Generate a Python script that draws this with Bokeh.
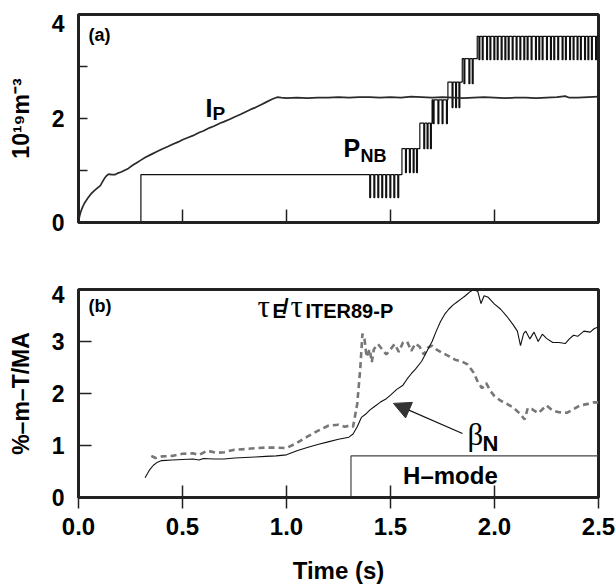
from bokeh.plotting import figure
from bokeh.layouts import column
from bokeh.models import Range1d, FixedTicker, Label, Arrow, NormalHead
from bokeh.embed import file_html
from bokeh.resources import INLINE

FONT = "Liberation Sans"
SERIF = "Liberation Serif"

# ---------------- data: panel (a) ----------------
ip_t = [0.000, 0.005, 0.012, 0.020, 0.030, 0.045, 0.060, 0.075, 0.090, 0.105, 0.115, 0.125,
        0.135, 0.145, 0.160, 0.175, 0.190, 0.205, 0.220, 0.240, 0.260, 0.280, 0.300, 0.320,
        0.350, 0.380, 0.400, 0.430, 0.450, 0.480, 0.500, 0.530, 0.550, 0.580, 0.600, 0.630,
        0.650, 0.680, 0.700, 0.730, 0.750, 0.780, 0.800, 0.830, 0.850, 0.880, 0.900, 0.930,
        0.955, 0.975, 1.000, 1.050, 1.100, 1.150, 1.200, 1.250, 1.300, 1.350, 1.400, 1.450,
        1.500, 1.550, 1.600, 1.650, 1.700, 1.750, 1.800, 1.850, 1.900, 1.950, 2.000, 2.050,
        2.100, 2.150, 2.200, 2.250, 2.300, 2.340, 2.360, 2.400, 2.450, 2.500]
ip_v = [0.00, 0.12, 0.22, 0.30, 0.38, 0.47, 0.55, 0.61, 0.66, 0.71, 0.78, 0.85,
        0.90, 0.93, 0.92, 0.92, 0.95, 0.97, 1.00, 1.04, 1.10, 1.15, 1.20, 1.25,
        1.31, 1.37, 1.41, 1.46, 1.50, 1.55, 1.59, 1.64, 1.67, 1.73, 1.76, 1.82,
        1.85, 1.91, 1.94, 1.99, 2.03, 2.08, 2.12, 2.18, 2.21, 2.27, 2.31, 2.37,
        2.41, 2.40, 2.39, 2.40, 2.39, 2.40, 2.40, 2.41, 2.40, 2.41, 2.41, 2.40,
        2.41, 2.40, 2.42, 2.41, 2.40, 2.41, 2.40, 2.39, 2.40, 2.41, 2.40, 2.39,
        2.40, 2.40, 2.39, 2.40, 2.41, 2.43, 2.40, 2.40, 2.41, 2.42]

# P_NB: beam steps (start time, top level, level of the modulation notches)
pnb_start = [0.300, 1.555, 1.641, 1.700, 1.776, 1.845, 1.917]
pnb_high = [0.92, 1.42, 1.91, 2.36, 2.70, 3.15, 3.58]
pnb_low = [0.48, 0.96, 1.42, 1.90, 2.21, 2.67, 3.13]
pnb_notches = [
    [1.400, 1.420, 1.439, 1.458, 1.477, 1.497, 1.516, 1.535],
    [1.572, 1.591, 1.609, 1.625],
    [1.660, 1.676, 1.692],
    [1.705, 1.728, 1.748, 1.769],
    [1.796, 1.813, 1.829],
    [1.853, 1.877, 1.893],
    [1.925, 1.941, 1.962, 1.978, 1.997, 2.013, 2.032, 2.050, 2.066, 2.085, 2.104,
     2.122, 2.141, 2.157, 2.176, 2.197, 2.213, 2.229, 2.250, 2.269, 2.285, 2.304,
     2.325, 2.341, 2.361, 2.378, 2.397, 2.413, 2.433, 2.449, 2.466, 2.486],
]
pnb_end = 2.5

# ---------------- data: panel (b) ----------------
beta_t = [0.32, 0.34, 0.36, 0.38, 0.40, 0.45, 0.50, 0.55, 0.58, 0.60, 0.65, 0.70, 0.75,
          0.80, 0.85, 0.90, 0.95, 1.00, 1.05, 1.10, 1.15, 1.20, 1.25, 1.30, 1.32, 1.34,
          1.36, 1.38, 1.40, 1.42, 1.45, 1.48, 1.50, 1.53, 1.56, 1.58, 1.60, 1.62, 1.65,
          1.68, 1.70, 1.72, 1.74, 1.76, 1.78, 1.80, 1.82, 1.84, 1.86, 1.88, 1.90, 1.92,
          1.935, 1.95, 1.97, 2.00, 2.03, 2.06, 2.09, 2.11, 2.125, 2.14, 2.15, 2.17, 2.19,
          2.21, 2.23, 2.25, 2.28, 2.31, 2.34, 2.36, 2.38, 2.40, 2.43, 2.46, 2.48, 2.50]
beta_v = [0.38, 0.52, 0.62, 0.68, 0.71, 0.72, 0.73, 0.74, 0.72, 0.75, 0.74, 0.74, 0.76,
          0.77, 0.78, 0.79, 0.80, 0.82, 0.90, 0.96, 1.02, 1.07, 1.12, 1.16, 1.22, 1.36,
          1.54, 1.60, 1.68, 1.74, 1.83, 1.90, 1.97, 2.08, 2.16, 2.28, 2.38, 2.47, 2.62,
          2.85, 3.00, 3.20, 3.38, 3.52, 3.62, 3.70, 3.76, 3.82, 3.88, 3.95, 4.00, 3.96,
          3.73, 3.88, 3.85, 3.72, 3.62, 3.48, 3.32, 3.20, 2.92, 3.15, 3.20, 3.05, 3.18,
          3.00, 3.14, 3.06, 2.98, 2.98, 2.96, 3.05, 3.12, 3.10, 3.20, 3.18, 3.25, 3.28]

tau_t = [0.35, 0.37, 0.40, 0.45, 0.50, 0.55, 0.58, 0.62, 0.66, 0.70, 0.75, 0.80, 0.85,
         0.90, 0.95, 1.00, 1.05, 1.10, 1.15, 1.20, 1.25, 1.28, 1.30, 1.32, 1.34, 1.355,
         1.365, 1.375, 1.385, 1.40, 1.41, 1.42, 1.44, 1.46, 1.48, 1.50, 1.52, 1.54, 1.56,
         1.58, 1.60, 1.62, 1.64, 1.66, 1.68, 1.70, 1.72, 1.75, 1.78, 1.81, 1.84, 1.87,
         1.90, 1.92, 1.94, 1.96, 1.98, 2.00, 2.03, 2.06, 2.09, 2.12, 2.145, 2.16, 2.18,
         2.21, 2.25, 2.28, 2.31, 2.35, 2.38, 2.41, 2.45, 2.48, 2.50]
tau_v = [0.80, 0.76, 0.79, 0.80, 0.84, 0.85, 0.82, 0.90, 0.86, 0.87, 0.92, 0.93, 0.95,
         0.96, 0.96, 0.95, 1.05, 1.17, 1.28, 1.38, 1.40, 1.36, 1.38, 1.36, 1.80, 2.50,
         3.15, 3.05, 2.70, 2.85, 2.60, 2.85, 2.95, 2.85, 2.75, 2.85, 2.95, 2.80, 2.98,
         3.00, 2.82, 2.96, 2.90, 2.75, 2.88, 2.92, 2.85, 2.78, 2.72, 2.65, 2.62, 2.56,
         2.40, 2.22, 2.10, 2.20, 2.05, 1.95, 1.86, 1.80, 1.73, 1.62, 1.50, 1.72, 1.70,
         1.62, 1.77, 1.67, 1.64, 1.63, 1.70, 1.77, 1.80, 1.83, 1.83]

hmode_start = 1.31
hmode_level = 0.80

x_ticks = [0.0, 0.5, 1.0, 1.5, 2.0, 2.5]
x_tick_labels = ["0.0", "0.5", "1.0", "1.5", "2.0", "2.5"]

# y tick labels; the top label "4" sits a little below the frame edge in the original
ya_label_pos = [0, 2, 3.83]
ya_labels = ["0", "2", "4"]
ya_ticks = [1, 2, 3]
yb_label_pos = [0, 1, 2, 3, 3.9]
yb_labels = ["0", "1", "2", "3", "4"]
yb_ticks = [1, 2, 3]

DARK = "#222222"


def style(p):
    p.outline_line_color = DARK
    p.outline_line_width = 3
    p.grid.visible = False
    p.background_fill_color = "white"
    p.border_fill_color = "white"
    for ax in p.axis:
        ax.axis_line_width = 3
        ax.axis_line_color = DARK
        ax.major_tick_line_color = DARK
        ax.major_tick_line_width = 1.5
        ax.minor_tick_line_color = DARK
        ax.minor_tick_line_width = 1.5
        ax.major_label_text_font = FONT
        ax.major_label_text_font_style = "bold"
        ax.major_label_text_color = "black"
        ax.axis_label_text_font = FONT
        ax.axis_label_text_font_style = "bold"
        ax.axis_label_text_color = "black"


def lab(p, x, y, text, size, font=FONT, bold=True, align="left", baseline="alphabetic"):
    p.add_layout(Label(x=x, y=y, text=text, text_font=font, text_font_size=size,
                       text_font_style="bold" if bold else "normal", text_color="black",
                       text_align=align, text_baseline=baseline))


# ---------------- panel (a) ----------------
p1 = figure(width=616, height=258, x_range=Range1d(0, 2.5), y_range=Range1d(0, 4),
            output_backend="svg", toolbar_location=None,
            min_border_left=78, min_border_right=18, min_border_top=14, min_border_bottom=36)
style(p1)

# build P_NB waveform from the step table
px = [0.0, pnb_start[0], pnb_start[0]]
py = [0.0, 0.0, pnb_high[0]]
w = 0.0045
for i in range(len(pnb_start)):
    hi, lo = pnb_high[i], pnb_low[i]
    for t in pnb_notches[i]:
        px += [t, t, t + w, t + w]
        py += [hi, lo, lo, hi]
    end = pnb_start[i + 1] if i + 1 < len(pnb_start) else pnb_end
    px.append(end)
    py.append(hi)
    if i + 1 < len(pnb_start):
        px.append(end)
        py.append(pnb_high[i + 1])

p1.line(px, py, line_color="#111111", line_width=1.2)
p1.line(ip_t, ip_v, line_color="#2a2a2a", line_width=1.7)

p1.xaxis.ticker = FixedTicker(ticks=[0.5, 1.0, 1.5, 2.0], minor_ticks=[])
p1.xaxis.major_tick_in = 13
p1.xaxis.major_tick_out = 0
p1.xaxis.major_label_text_font_size = "1px"
p1.xaxis.major_label_text_alpha = 0
p1.yaxis.ticker = FixedTicker(ticks=ya_label_pos, minor_ticks=ya_ticks)
p1.yaxis.major_label_overrides = {v: s for v, s in zip(ya_label_pos, ya_labels)}
p1.yaxis.major_tick_in = 0
p1.yaxis.major_tick_out = 0
p1.yaxis.minor_tick_in = 9
p1.yaxis.minor_tick_out = 0
p1.yaxis.major_label_text_font_size = "23px"
p1.yaxis.major_label_standoff = 14
p1.yaxis.axis_label = "10¹⁹m⁻³"
p1.yaxis.axis_label_text_font_size = "23px"
p1.yaxis.axis_label_standoff = 15

lab(p1, 0.048, 3.61, "(a)", "18px")
lab(p1, 0.61, 2.195, "I", "25px")
lab(p1, 0.644, 2.095, "P", "19px")
lab(p1, 1.274, 1.425, "P", "25px")
lab(p1, 1.356, 1.285, "NB", "18px")

# ---------------- panel (b) ----------------
p2 = figure(width=616, height=328, x_range=Range1d(0, 2.5), y_range=Range1d(0, 4),
            output_backend="svg", toolbar_location=None,
            min_border_left=78, min_border_right=18, min_border_top=31, min_border_bottom=89)
style(p2)

p2.line([hmode_start, hmode_start, 2.5], [0, hmode_level, hmode_level],
        line_color="#444444", line_width=1.2)
p2.line(tau_t, tau_v, line_color="#777777", line_width=2.6, line_dash="6 4")
p2.line(beta_t, beta_v, line_color="#111111", line_width=1.1)

p2.xaxis.ticker = FixedTicker(ticks=x_ticks, minor_ticks=[])
p2.xaxis.major_label_overrides = {t: s for t, s in zip(x_ticks, x_tick_labels)}
p2.xaxis.major_tick_in = 12
p2.xaxis.major_tick_out = 11
p2.xaxis.major_label_text_font_size = "24px"
p2.xaxis.major_label_standoff = 9
p2.xaxis.axis_label = "Time (s)"
p2.xaxis.axis_label_text_font_size = "24px"
p2.xaxis.axis_label_standoff = 19
p2.yaxis.ticker = FixedTicker(ticks=yb_label_pos, minor_ticks=yb_ticks)
p2.yaxis.major_label_overrides = {v: s for v, s in zip(yb_label_pos, yb_labels)}
p2.yaxis.major_tick_in = 0
p2.yaxis.major_tick_out = 0
p2.yaxis.minor_tick_in = 13
p2.yaxis.minor_tick_out = 0
p2.yaxis.major_label_text_font_size = "23px"
p2.yaxis.major_label_standoff = 14
p2.yaxis.axis_label = "%–m–T/MA"
p2.yaxis.axis_label_text_font_size = "23px"
p2.yaxis.axis_label_standoff = 15

lab(p2, 0.048, 3.685, "(b)", "18px")
lab(p2, 0.86, 3.675, "τ", "31px", font=SERIF, bold=False)
lab(p2, 0.933, 3.595, "E", "20px")
lab(p2, 0.981, 3.675, "/", "22px")
lab(p2, 1.019, 3.675, "τ", "31px", font=SERIF, bold=False)
lab(p2, 1.091, 3.595, "ITER89-P", "20px")
lab(p2, 1.87, 1.205, "β", "31px", font=SERIF, bold=False)
lab(p2, 1.942, 1.035, "N", "22px")
lab(p2, 1.788, 0.425, "H–mode", "24px", align="center")

p2.add_layout(Arrow(end=NormalHead(size=17, fill_color="#333333", line_color="#333333"),
                    x_start=1.846, y_start=1.23, x_end=1.514, y_end=1.81,
                    line_color="#111111", line_width=1.2))

layout = column(p1, p2)
open("out.html", "w").write(file_html(layout, INLINE))
